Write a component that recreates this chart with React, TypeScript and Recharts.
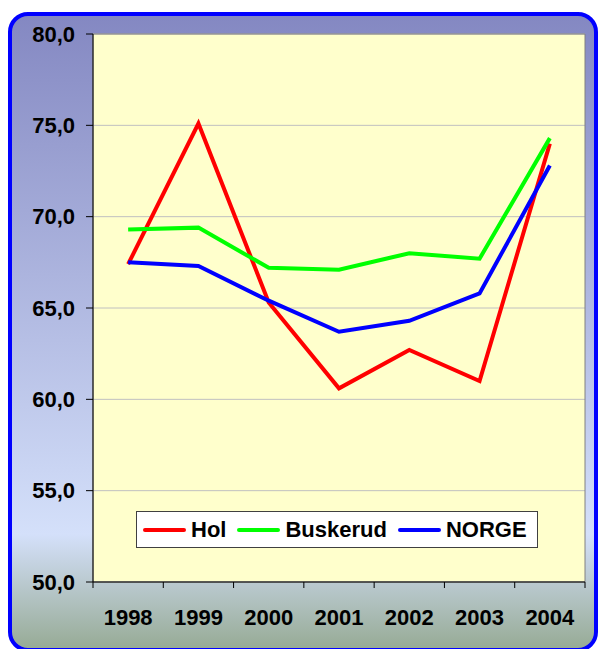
import React from 'react'
import { LineChart, Line, XAxis, YAxis, CartesianGrid, ReferenceArea } from 'recharts'

const years = ['1998', '1999', '2000', '2001', '2002', '2003', '2004']
const hol = [67.4, 75.1, 65.3, 60.6, 62.7, 61.0, 74.0]
const buskerud = [69.3, 69.4, 67.2, 67.1, 68.0, 67.7, 74.3]
const norge = [67.5, 67.3, 65.4, 63.7, 64.3, 65.8, 72.8]
const yTicks = [50, 55, 60, 65, 70, 75, 80]

const series = [
    { key: 'hol', name: 'Hol', color: '#FF0000' },
    { key: 'buskerud', name: 'Buskerud', color: '#00FF00' },
    { key: 'norge', name: 'NORGE', color: '#0000FF' },
]

// x sits in the middle of each category slot, so tick marks can go on the slot edges
const data = years.map((year, i) => ({
    x: i + 0.5,
    year,
    hol: hol[i],
    buskerud: buskerud[i],
    norge: norge[i],
}))

const xTicks: number[] = []
for (let i = 0; i <= years.length * 2; i++) xTicks.push(i / 2)

const font = '"Liberation Sans", Arial, sans-serif'

const XTick = (props: any) => {
    const { x, y, payload } = props
    const v = payload.value
    if (Number.isInteger(v)) {
        return <line x1={x} x2={x} y1={y} y2={y + 6} stroke="#000" strokeWidth={1} />
    }
    return (
        <text x={x} y={y + 43} textAnchor="middle" fontSize={22} fontWeight="bold" fontFamily={font} fill="#000">
            {years[Math.floor(v)]}
        </text>
    )
}

export default function App() {
    return (
        <div style={{ position: 'relative', width: 598, height: 649, overflow: 'hidden' }}>
            <style>{'body{margin:0}'}</style>
            <div
                style={{
                    position: 'absolute',
                    left: 8,
                    top: 12,
                    width: 590,
                    height: 640,
                    boxSizing: 'border-box',
                    border: '4px solid #0000FF',
                    borderRadius: 20,
                    background: 'linear-gradient(to bottom, #8488C2 0%, #D4E0FA 82%, #97AB96 100%)',
                }}
            />
            <div style={{ position: 'absolute', left: 0, top: 0 }}>
                <LineChart width={598} height={649} data={data} margin={{ top: 34, right: 13, left: 0, bottom: 27 }}>
                    <CartesianGrid vertical={false} stroke="#C0C0C0" fill="#FFFFCC" fillOpacity={1} />
                    <ReferenceArea x1={0} x2={7} y1={50} y2={80} fill="none" stroke="#808080" strokeWidth={1} />
                    <XAxis
                        dataKey="x"
                        type="number"
                        domain={[0, years.length]}
                        ticks={xTicks}
                        interval={0}
                        height={40}
                        axisLine={{ stroke: '#000' }}
                        tickLine={false}
                        tickSize={0}
                        tickMargin={0}
                        tick={<XTick />}
                    />
                    <YAxis
                        type="number"
                        domain={[50, 80]}
                        ticks={yTicks}
                        interval={0}
                        width={93}
                        axisLine={{ stroke: '#000' }}
                        tickLine={{ stroke: '#000' }}
                        tickSize={7}
                        tickMargin={11}
                        tickFormatter={(v: number) => v.toFixed(1).replace('.', ',')}
                        tick={{ fill: '#000', fontSize: 22, fontWeight: 'bold', fontFamily: font }}
                    />
                    {series.map((s) => (
                        <Line
                            key={s.key}
                            type="linear"
                            dataKey={s.key}
                            name={s.name}
                            stroke={s.color}
                            strokeWidth={4}
                            dot={false}
                            activeDot={false}
                            isAnimationActive={false}
                        />
                    ))}
                </LineChart>
            </div>
            <div
                style={{
                    position: 'absolute',
                    left: 136,
                    top: 511,
                    width: 402,
                    height: 37,
                    boxSizing: 'border-box',
                    background: '#fff',
                    border: '1px solid #404040',
                    display: 'flex',
                    alignItems: 'center',
                    paddingLeft: 6,
                    fontFamily: font,
                    fontWeight: 'bold',
                    fontSize: 22,
                    whiteSpace: 'nowrap',
                }}
            >
                {series.map((s) => (
                    <div key={s.key} style={{ display: 'flex', alignItems: 'center', marginRight: 11 }}>
                        <div style={{ width: 43, height: 4, background: s.color, borderRadius: 2, marginRight: 5 }} />
                        <span>{s.name}</span>
                    </div>
                ))}
            </div>
        </div>
    )
}
